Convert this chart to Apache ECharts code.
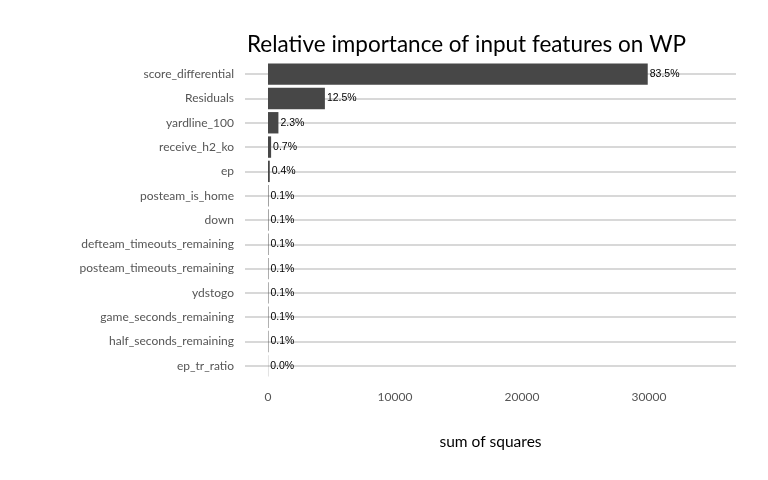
<!DOCTYPE html>
<html>
<head>
<meta charset="utf-8">
<script src="https://cdn.jsdelivr.net/npm/echarts@6/dist/echarts.min.js"></script>
<style>
  html, body { margin: 0; padding: 0; background: #fff; }
  #chart { width: 768px; height: 480px; }
</style>
</head>
<body>
<div id="chart"></div>
<script>
// features, top to bottom as drawn
const features = [
  'score_differential', 'Residuals', 'yardline_100', 'receive_h2_ko', 'ep',
  'posteam_is_home', 'down', 'defteam_timeouts_remaining',
  'posteam_timeouts_remaining', 'ydstogo', 'game_seconds_remaining',
  'half_seconds_remaining', 'ep_tr_ratio'
]
// sum of squares
const sumSq = [29900, 4480, 820, 245, 140, 40, 38, 36, 35, 34, 33, 32, 12]
const pctLabels = ['83.5%', '12.5%', '2.3%', '0.7%', '0.4%', '0.1%', '0.1%', '0.1%', '0.1%', '0.1%', '0.1%', '0.1%', '0.0%']
const xTicks = [0, 10000, 20000, 30000]

const chart = echarts.init(document.getElementById('chart'))

const option = {
  animation: false,
  title: {
    text: 'Relative importance of input features on WP',
    left: 242,
    top: 28,
    textStyle: { fontFamily: 'Lato', fontSize: 22.5, fontWeight: 'normal', color: '#000' }
  },
  grid: { left: 245, right: 32, top: 62, height: 316 },
  xAxis: {
    type: 'value',
    min: -1811,
    max: 36850,
    name: 'sum of squares',
    nameLocation: 'middle',
    nameGap: 56,
    nameTextStyle: { fontFamily: 'Lato', fontSize: 15.5, color: '#000' },
    axisLine: { show: false },
    axisTick: { show: false },
    splitLine: { show: false },
    axisLabel: {
      customValues: xTicks,
      formatter: v => String(v),
      margin: 13,
      fontFamily: 'Lato',
      fontSize: 12,
      color: '#555'
    }
  },
  yAxis: {
    type: 'category',
    data: features,
    inverse: true,
    axisLine: { show: false, onZero: false },
    axisTick: {
      show: true,
      alignWithLabel: true,
      inside: true,
      length: 491,
      lineStyle: { color: '#cccccc', width: 1.5 }
    },
    axisLabel: {
      margin: 11,
      fontFamily: 'Lato',
      fontSize: 12,
      color: '#555'
    },
    splitLine: { show: false }
  },
  series: [{
    type: 'bar',
    data: sumSq,
    barWidth: '88%',
    itemStyle: { color: '#474747' },
    label: {
      show: true,
      position: 'right',
      distance: 2,
      formatter: p => pctLabels[p.dataIndex],
      fontFamily: 'Liberation Sans',
      fontSize: 10.5,
      color: '#000'
    }
  }]
}

chart.setOption(option)
</script>
</body>
</html>
